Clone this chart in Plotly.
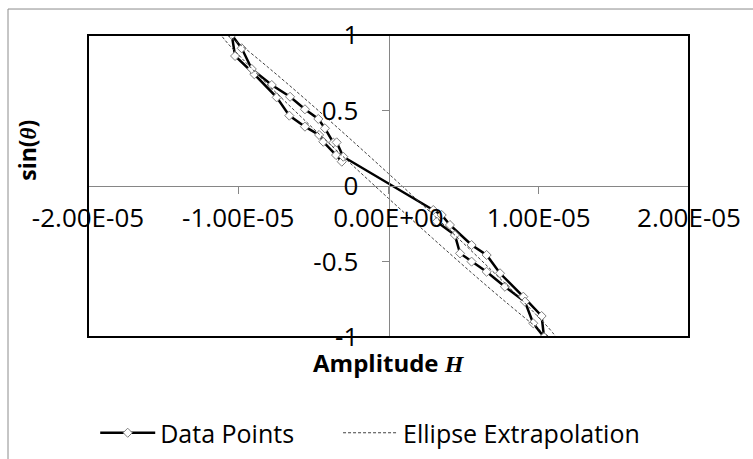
import plotly.graph_objects as go

# ---- data ----
data_h = [-0.311e-5, -0.349e-5, -0.434e-5, -0.462e-5, -0.556e-5, -0.660e-5, -0.744e-5,
          -0.893e-5, -1.021e-5, -1.043e-5, -0.977e-5, -0.910e-5, -0.777e-5, -0.655e-5,
          -0.556e-5, -0.467e-5, -0.423e-5, -0.367e-5, -0.345e-5, -0.301e-5,
          0.298e-5, 0.354e-5, 0.409e-5, 0.553e-5, 0.653e-5, 0.742e-5, 0.897e-5,
          1.019e-5, 1.035e-5, 0.963e-5, 0.908e-5, 0.775e-5, 0.653e-5, 0.553e-5,
          0.476e-5, 0.442e-5, 0.321e-5]
data_s = [0.161, 0.205, 0.293, 0.338, 0.393, 0.466, 0.587,
          0.740, 0.861, 1.0, 0.912, 0.775, 0.669, 0.591,
          0.508, 0.444, 0.382, 0.287, 0.289, 0.194,
          -0.159, -0.192, -0.258, -0.391, -0.457, -0.578, -0.733,
          -0.861, -1.0, -0.909, -0.766, -0.667, -0.568, -0.501,
          -0.446, -0.325, -0.236]

ellipse_h = [1.130e-5, 1.0915e-5, 0.9786e-5, 0.799e-5, 0.565e-5, 0.2924e-5, 0.0,
             -0.2924e-5, -0.565e-5, -0.799e-5, -0.9786e-5, -1.0915e-5, -1.130e-5,
             -1.0915e-5, -0.9786e-5, -0.799e-5, -0.565e-5, -0.2924e-5, 0.0,
             0.2924e-5, 0.565e-5, 0.799e-5, 0.9786e-5, 1.0915e-5, 1.130e-5]
ellipse_s = [-1.027, -1.013, -0.930, -0.784, -0.585, -0.345, -0.082,
             0.186, 0.442, 0.668, 0.848, 0.970, 1.027,
             1.013, 0.930, 0.784, 0.585, 0.345, 0.082,
             -0.186, -0.442, -0.668, -0.848, -0.970, -1.027]

x_tick_vals = [-2e-5, -1e-5, 0, 1e-5, 2e-5]
x_tick_text = ["-2.00E-05", "-1.00E-05", "0.00E+00", "1.00E-05", "2.00E-05"]
y_tick_vals = [1, 0.5, 0, -0.5, -1]
y_tick_text = ["1", "0.5", "0", "-0.5", "-1"]

series_names = ["Data Points", "Ellipse Extrapolation"]

FONT = "Open Sans"
SERIF = "Liberation Serif"
NBSP = "\u00a0"

fig = go.Figure()
fig.add_trace(go.Scatter(
    x=data_h, y=data_s, mode="lines+markers", name=series_names[0] + NBSP * 6,
    line=dict(color="black", width=2.5),
    marker=dict(symbol="diamond", size=7, color="white",
                line=dict(color="#7f7f7f", width=1)),
))
fig.add_trace(go.Scatter(
    x=ellipse_h, y=ellipse_s, mode="lines", name=series_names[1],
    line=dict(color="#404040", width=1, dash="3px,2px", shape="spline"),
))

axis_gray = "#868686"
fig.update_layout(
    width=753, height=459,
    margin=dict(l=88, r=64, t=35, b=122, autoexpand=False),
    paper_bgcolor="white", plot_bgcolor="white",
    font=dict(family=FONT, size=25, color="black"),
    xaxis=dict(range=[-2e-5, 2e-5], anchor="free", position=0.5,
               showline=True, linecolor=axis_gray, linewidth=1,
               ticks="outside", ticklen=7, tickcolor=axis_gray,
               tickvals=x_tick_vals, ticktext=x_tick_text,
               showgrid=False, zeroline=False, ticklabelstandoff=2,
               tickfont=dict(family=FONT, size=26, color="black")),
    yaxis=dict(range=[-1, 1], anchor="free", position=0.5,
               showline=True, linecolor=axis_gray, linewidth=1,
               ticks="outside", ticklen=7, tickcolor=axis_gray,
               tickvals=y_tick_vals, ticktext=y_tick_text,
               showgrid=False, zeroline=False, ticklabelstandoff=18,
               tickfont=dict(family=FONT, size=26, color="black")),
    showlegend=True,
    legend=dict(orientation="h", x=0.012, xanchor="left",
                yref="container", y=1 - 433 / 459, yanchor="middle",
                itemwidth=55,
                font=dict(family=FONT, size=25, color="black"),
                bgcolor="rgba(0,0,0,0)"),
)

# plot-area box and outer chart border
fig.add_shape(type="rect", xref="paper", yref="paper", x0=0, x1=1, y0=0, y1=1,
              line=dict(color="black", width=2), layer="above")
fig.add_shape(type="line", xref="paper", yref="paper", x0=-0.1331, x1=1.2,
              y0=1.086, y1=1.086, line=dict(color="#8c8c8c", width=1))
fig.add_shape(type="line", xref="paper", yref="paper", x0=-0.1331, x1=-0.1331,
              y0=1.086, y1=-0.5, line=dict(color="#8c8c8c", width=1))

fig.add_annotation(xref="paper", yref="paper", x=0.5, y=-0.083,
                   text=f"<b>Amplitude </b><span style=\"font-family:{SERIF}\"><b><i>H</i></b></span>",
                   showarrow=False, font=dict(family=FONT, size=24, color="black"),
                   xanchor="center", yanchor="middle")
fig.add_annotation(xref="paper", yref="paper", x=-0.1015, y=0.62,
                   text=f"<b>sin(</b><span style=\"font-family:{SERIF}\"><b><i>θ</i></b></span><b>)</b>",
                   textangle=-90, showarrow=False,
                   font=dict(family=FONT, size=23, color="black"),
                   xanchor="center", yanchor="middle")

fig.write_html("out.html")
